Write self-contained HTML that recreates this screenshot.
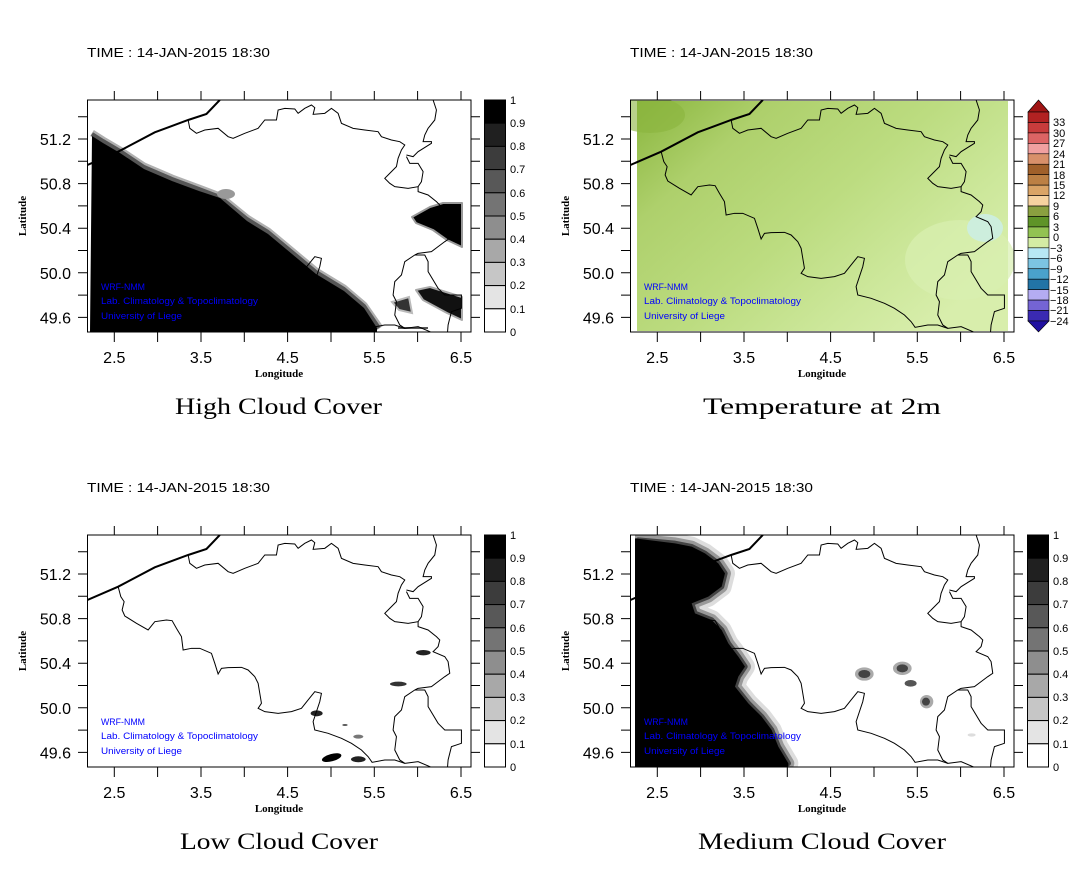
<!DOCTYPE html>
<html><head><meta charset="utf-8"><style>
html,body{margin:0;padding:0;background:#fff;}
svg{display:block;}
.t{font-family:"Liberation Sans",sans-serif;font-size:13px;fill:#000;}
.tk{font-family:"Liberation Sans",sans-serif;font-size:16px;fill:#000;}
.cb{font-family:"Liberation Sans",sans-serif;font-size:11px;fill:#000;}
.ax{font-family:"Liberation Serif",serif;font-size:11px;font-weight:bold;fill:#000;}
.ti{font-family:"Liberation Serif",serif;font-size:23px;fill:#000;}
.bl{font-family:"Liberation Sans",sans-serif;font-size:9px;fill:#0000ff;}
</style></head><body>
<svg width="1087" height="869" viewBox="0 0 1087 869" xmlns="http://www.w3.org/2000/svg">
<defs>
<clipPath id="c1"><rect x="87.5" y="100" width="383.5" height="232"/></clipPath>
<clipPath id="c2"><rect x="630.5" y="100" width="383.5" height="232"/></clipPath>
<clipPath id="c3"><rect x="87.5" y="535" width="383.5" height="232"/></clipPath>
<clipPath id="c4"><rect x="630.5" y="535" width="383.5" height="232"/></clipPath>
<linearGradient id="tg" x1="0" y1="0" x2="1" y2="0.7">
<stop offset="0" stop-color="#8ab63e"/>
<stop offset="0.25" stop-color="#aed06c"/>
<stop offset="0.55" stop-color="#bcdc80"/>
<stop offset="0.8" stop-color="#cce79a"/>
<stop offset="1" stop-color="#d8eeac"/>
</linearGradient>
<g id="frame" fill="none" stroke="#000" stroke-width="1">
<rect x="87.5" y="100" width="383.5" height="232"/>
<path d="M114.3 91V100M157.6 91V100M201 91V100M244.3 91V100M287.6 91V100M331 91V100M374.3 91V100M417.6 91V100M461 91V100
M114.3 332V342M157.6 332V342M201 332V342M244.3 332V342M287.6 332V342M331 332V342M374.3 332V342M417.6 332V342M461 332V342
M78 116.7H87.5M78 139H87.5M78 161.3H87.5M78 183.6H87.5M78 205.9H87.5M78 228.2H87.5M78 250.5H87.5M78 272.8H87.5M78 295.1H87.5M78 317.4H87.5
M471 116.7H480M471 139H480M471 161.3H480M471 183.6H480M471 205.9H480M471 228.2H480M471 250.5H480M471 272.8H480M471 295.1H480M471 317.4H480"/>
</g>
<g id="bd" fill="none" stroke="#000">
<path stroke-width="6" d="M8 210L100 170L210 112L310 75L365 57L405 15"/>
<path stroke-width="3" d="M100 170L108 200L118 215L112 240L120 258L155 280L190 300L210 275L245 270L262 272L275 295L290 320L295 360L320 355L345 355L380 370L390 400L400 432L410 415L430 413L470 412L490 420L510 440L520 460L525 490L530 520L520 535L540 545L580 550L620 545L650 535L670 510L690 485L710 490L705 515L695 545L685 575L690 600L730 610L770 625L800 640L830 660L850 680L862 697L900 690L930 690L960 700L1000 695L1040 712"/>
<path stroke-width="3" d="M310 75L315 100L335 115L360 105L400 100L430 125L445 130L480 115L520 100L540 75L575 75L580 45L600 40L630 42L640 55L660 40L680 30L690 38L685 58L720 55L740 40L760 55L770 85L805 100L840 105L880 110L890 125L920 135L945 140L960 150L950 165L940 190L935 215L910 240L900 250L915 265L930 275L970 280L1000 275L1000 290L1030 300L1055 320L1065 330L1060 350L1045 365L1080 380L1090 395L1095 430L1080 440L1060 455L1040 470L1000 475L990 480"/>
<path stroke-width="3" d="M1045 15L1055 45L1050 75L1030 100L1020 120L1015 140L1040 140L1040 145L1000 170L985 185L965 180M965 185L975 205L1000 205L1015 230L1010 260L1000 275"/>
<path stroke-width="3" d="M990 480L1020 480L1030 500L1030 530L1060 580L1080 600L1130 600L1130 640L1100 650L1090 690L1088 715M990 480L960 500L950 540L930 560L925 600L935 620L930 660L945 690L960 700"/>
</g>
</defs>

<!-- ============ PANEL 1 ============ -->
<text class="t" x="87" y="57" textLength="183" lengthAdjust="spacingAndGlyphs">TIME : 14-JAN-2015 18:30</text>
<g clip-path="url(#c1)">
<polyline points="92,133 103,140 120,150 144,166 172,178 199,188 220,196 247,218 268,231 292,251 316,271 344,288 364,305 380,328" fill="none" stroke="#b0b0b0" stroke-width="7" stroke-linejoin="round"/>
<polyline points="92,134 103,141 120,151 144,167 172,179 199,189 220,197 247,219 268,232 292,252 316,272 344,289 364,306 379,328" fill="none" stroke="#555" stroke-width="4" stroke-linejoin="round"/>
<ellipse cx="226" cy="194" rx="9" ry="5" fill="#999"/>
<polygon points="92,136 103,143 120,153 144,169 172,181 199,191 220,198 247,221 268,234 292,254 316,274 344,291 364,308 377,328 377,332 90,332" fill="#000"/>
<polygon points="412,217 430,207 443,203 462,203 462,247 447,240 433,230 416,223" fill="#000" stroke="#999" stroke-width="2" stroke-linejoin="round"/>
<polygon points="416,290 430,287 462,297 462,320 447,313 423,300" fill="#111" stroke="#aaa" stroke-width="2" stroke-linejoin="round"/>
<polygon points="392,302 409,297 412,313 399,310" fill="#333" stroke="#bbb" stroke-width="2"/>
<rect x="398" y="327" width="30" height="2" fill="#555"/>
<use href="#bd" transform="translate(84.8,95) scale(0.3333)"/>
</g>
<use href="#frame"/>
<text class="bl" x="101" y="290" textLength="44" lengthAdjust="spacingAndGlyphs">WRF-NMM</text>
<text class="bl" x="101" y="304" textLength="157" lengthAdjust="spacingAndGlyphs">Lab. Climatology &amp; Topoclimatology</text>
<text class="bl" x="101" y="319" textLength="81" lengthAdjust="spacingAndGlyphs">University of Liege</text>
<g class="tk" text-anchor="end"><text x="71" y="145">51.2</text><text x="71" y="189.6">50.8</text><text x="71" y="234.2">50.4</text><text x="71" y="278.8">50.0</text><text x="71" y="323.4">49.6</text></g>
<g class="tk" text-anchor="middle"><text x="114.3" y="363">2.5</text><text x="201" y="363">3.5</text><text x="287.6" y="363">4.5</text><text x="374.3" y="363">5.5</text><text x="461" y="363">6.5</text></g>
<text class="ax" x="279" y="377" text-anchor="middle">Longitude</text>
<text class="ax" transform="translate(26,216) rotate(-90)" text-anchor="middle">Latitude</text>
<text class="ti" x="175" y="414" textLength="207" lengthAdjust="spacingAndGlyphs">High Cloud Cover</text>
<g id="gbar" stroke="#000" stroke-width="1">
<rect x="484.5" y="100" width="21" height="23.2" fill="#000"/>
<rect x="484.5" y="123.2" width="21" height="23.2" fill="#202020"/>
<rect x="484.5" y="146.4" width="21" height="23.2" fill="#3c3c3c"/>
<rect x="484.5" y="169.6" width="21" height="23.2" fill="#585858"/>
<rect x="484.5" y="192.8" width="21" height="23.2" fill="#747474"/>
<rect x="484.5" y="216" width="21" height="23.2" fill="#8e8e8e"/>
<rect x="484.5" y="239.2" width="21" height="23.2" fill="#a8a8a8"/>
<rect x="484.5" y="262.4" width="21" height="23.2" fill="#c6c6c6"/>
<rect x="484.5" y="285.6" width="21" height="23.2" fill="#e4e4e4"/>
<rect x="484.5" y="308.8" width="21" height="23.2" fill="#fff"/>
</g>
<g class="cb"><text x="510" y="104">1</text><text x="510" y="127">0.9</text><text x="510" y="150">0.8</text><text x="510" y="173">0.7</text><text x="510" y="197">0.6</text><text x="510" y="220">0.5</text><text x="510" y="243">0.4</text><text x="510" y="266">0.3</text><text x="510" y="289">0.2</text><text x="510" y="313">0.1</text><text x="510" y="336">0</text></g>

<!-- ============ PANEL 2 ============ -->
<text class="t" x="630" y="57" textLength="183" lengthAdjust="spacingAndGlyphs">TIME : 14-JAN-2015 18:30</text>
<g clip-path="url(#c2)">
<rect x="637" y="101" width="371" height="230" fill="url(#tg)"/>
<ellipse cx="650" cy="115" rx="35" ry="18" fill="#8ab43e" opacity="0.6"/>
<ellipse cx="960" cy="260" rx="55" ry="40" fill="#d8f0b0" opacity="0.7"/>
<ellipse cx="985" cy="228" rx="18" ry="14" fill="#cdeedd"/>
<use href="#bd" transform="translate(627.8,95) scale(0.3333)"/>
</g>
<use href="#frame" transform="translate(543,0)"/>
<text class="bl" x="644" y="290" textLength="44" lengthAdjust="spacingAndGlyphs">WRF-NMM</text>
<text class="bl" x="644" y="304" textLength="157" lengthAdjust="spacingAndGlyphs">Lab. Climatology &amp; Topoclimatology</text>
<text class="bl" x="644" y="319" textLength="81" lengthAdjust="spacingAndGlyphs">University of Liege</text>
<g class="tk" text-anchor="end"><text x="614" y="145">51.2</text><text x="614" y="189.6">50.8</text><text x="614" y="234.2">50.4</text><text x="614" y="278.8">50.0</text><text x="614" y="323.4">49.6</text></g>
<g class="tk" text-anchor="middle"><text x="657.3" y="363">2.5</text><text x="744" y="363">3.5</text><text x="830.6" y="363">4.5</text><text x="917.3" y="363">5.5</text><text x="1004" y="363">6.5</text></g>
<text class="ax" x="822" y="377" text-anchor="middle">Longitude</text>
<text class="ax" transform="translate(569,216) rotate(-90)" text-anchor="middle">Latitude</text>
<text class="ti" x="703" y="414" textLength="238" lengthAdjust="spacingAndGlyphs">Temperature at 2m</text>
<g stroke="#000" stroke-width="0.6">
<polygon points="1038.5,100 1049,112 1028,112" fill="#a01414"/>
<rect x="1028" y="112" width="21" height="10.45" fill="#b22222"/>
<rect x="1028" y="122.45" width="21" height="10.45" fill="#c83c3c"/>
<rect x="1028" y="132.9" width="21" height="10.45" fill="#dc6464"/>
<rect x="1028" y="143.35" width="21" height="10.45" fill="#f0a0a0"/>
<rect x="1028" y="153.8" width="21" height="10.45" fill="#d8906a"/>
<rect x="1028" y="164.25" width="21" height="10.45" fill="#a0602a"/>
<rect x="1028" y="174.7" width="21" height="10.45" fill="#bc8044"/>
<rect x="1028" y="185.15" width="21" height="10.45" fill="#daa466"/>
<rect x="1028" y="195.6" width="21" height="10.45" fill="#f6d2a0"/>
<rect x="1028" y="206.05" width="21" height="10.45" fill="#8aa040"/>
<rect x="1028" y="216.5" width="21" height="10.45" fill="#5f9428"/>
<rect x="1028" y="226.95" width="21" height="10.45" fill="#92c252"/>
<rect x="1028" y="237.4" width="21" height="10.45" fill="#d4eca4"/>
<rect x="1028" y="247.85" width="21" height="10.45" fill="#b8e8f4"/>
<rect x="1028" y="258.3" width="21" height="10.45" fill="#7cc4e2"/>
<rect x="1028" y="268.75" width="21" height="10.45" fill="#4aa2cc"/>
<rect x="1028" y="279.2" width="21" height="10.45" fill="#2274a6"/>
<rect x="1028" y="289.65" width="21" height="10.45" fill="#b4acf2"/>
<rect x="1028" y="300.1" width="21" height="10.45" fill="#7464d4"/>
<rect x="1028" y="310.55" width="21" height="10.45" fill="#3a2ab2"/>
<polygon points="1028,321 1049,321 1038.5,332" fill="#2010a0"/>
</g>
<g class="cb" font-size="12"><text x="1053" y="126">33</text><text x="1053" y="137">30</text><text x="1053" y="147">27</text><text x="1053" y="158">24</text><text x="1053" y="168">21</text><text x="1053" y="179">18</text><text x="1053" y="189">15</text><text x="1053" y="199">12</text><text x="1053" y="210">9</text><text x="1053" y="220">6</text><text x="1053" y="231">3</text><text x="1053" y="241">0</text><text x="1050" y="252">−3</text><text x="1050" y="262">−6</text><text x="1050" y="273">−9</text><text x="1050" y="283">−12</text><text x="1050" y="294">−15</text><text x="1050" y="304">−18</text><text x="1050" y="314">−21</text><text x="1050" y="325">−24</text></g>

<!-- ============ PANEL 3 ============ -->
<text class="t" x="87" y="492" textLength="183" lengthAdjust="spacingAndGlyphs">TIME : 14-JAN-2015 18:30</text>
<g clip-path="url(#c3)">
<g transform="translate(85,530) scale(0.3333)">
<ellipse cx="1015" cy="368" rx="22" ry="8" fill="#222"/>
<ellipse cx="940" cy="462" rx="25" ry="7" fill="#333"/>
<ellipse cx="695" cy="550" rx="18" ry="9" fill="#222"/>
<ellipse cx="740" cy="683" rx="30" ry="11" fill="#000" transform="rotate(-15 740 683)"/>
<ellipse cx="820" cy="688" rx="22" ry="9" fill="#222"/>
<ellipse cx="820" cy="620" rx="15" ry="6" fill="#777"/>
<ellipse cx="780" cy="585" rx="8" ry="3" fill="#555"/>
</g>
<use href="#bd" transform="translate(84.8,530) scale(0.3333)"/>
</g>
<use href="#frame" transform="translate(0,435)"/>
<text class="bl" x="101" y="725" textLength="44" lengthAdjust="spacingAndGlyphs">WRF-NMM</text>
<text class="bl" x="101" y="739" textLength="157" lengthAdjust="spacingAndGlyphs">Lab. Climatology &amp; Topoclimatology</text>
<text class="bl" x="101" y="754" textLength="81" lengthAdjust="spacingAndGlyphs">University of Liege</text>
<g class="tk" text-anchor="end"><text x="71" y="580">51.2</text><text x="71" y="624.6">50.8</text><text x="71" y="669.2">50.4</text><text x="71" y="713.8">50.0</text><text x="71" y="758.4">49.6</text></g>
<g class="tk" text-anchor="middle"><text x="114.3" y="798">2.5</text><text x="201" y="798">3.5</text><text x="287.6" y="798">4.5</text><text x="374.3" y="798">5.5</text><text x="461" y="798">6.5</text></g>
<text class="ax" x="279" y="812" text-anchor="middle">Longitude</text>
<text class="ax" transform="translate(26,651) rotate(-90)" text-anchor="middle">Latitude</text>
<text class="ti" x="180" y="849" textLength="198" lengthAdjust="spacingAndGlyphs">Low Cloud Cover</text>
<use href="#gbar" transform="translate(0,435)"/>
<g class="cb"><text x="510" y="539">1</text><text x="510" y="562">0.9</text><text x="510" y="585">0.8</text><text x="510" y="608">0.7</text><text x="510" y="632">0.6</text><text x="510" y="655">0.5</text><text x="510" y="678">0.4</text><text x="510" y="701">0.3</text><text x="510" y="724">0.2</text><text x="510" y="748">0.1</text><text x="510" y="771">0</text></g>

<!-- ============ PANEL 4 ============ -->
<text class="t" x="630" y="492" textLength="183" lengthAdjust="spacingAndGlyphs">TIME : 14-JAN-2015 18:30</text>
<g clip-path="url(#c4)">
<g transform="translate(625,530) scale(0.3333)" stroke-linejoin="round" stroke-linecap="round">
<polyline points="40,30 150,40 200,50 240,70 280,100 300,130 290,170 250,200 200,220 210,250 260,270 290,300 310,340 340,380 360,410 340,440 330,470 370,520 410,560 440,600 460,650 490,700" fill="none" stroke="#ddd" stroke-width="60"/>
<polyline points="40,30 150,40 200,50 240,70 280,100 300,130 290,170 250,200 200,220 210,250 260,270 290,300 310,340 340,380 360,410 340,440 330,470 370,520 410,560 440,600 460,650 490,700" fill="none" stroke="#999" stroke-width="36"/>
<polyline points="40,30 150,40 200,50 240,70 280,100 300,130 290,170 250,200 200,220 210,250 260,270 290,300 310,340 340,380 360,410 340,440 330,470 370,520 410,560 440,600 460,650 490,700" fill="none" stroke="#444" stroke-width="16"/>
<polygon points="30,25 150,40 200,50 240,70 280,100 300,130 290,170 250,200 200,220 210,250 260,270 290,300 310,340 340,380 360,410 340,440 330,470 370,520 410,560 440,600 460,650 490,700 490,720 30,720" fill="#000"/>
<rect x="0" y="0" width="30" height="720" fill="#fff"/>
<ellipse cx="718" cy="432" rx="28" ry="20" fill="#aaa"/><ellipse cx="718" cy="432" rx="18" ry="12" fill="#444"/>
<ellipse cx="832" cy="415" rx="28" ry="20" fill="#aaa"/><ellipse cx="832" cy="415" rx="17" ry="12" fill="#444"/>
<ellipse cx="857" cy="460" rx="18" ry="10" fill="#555"/>
<ellipse cx="905" cy="515" rx="20" ry="20" fill="#aaa"/><ellipse cx="903" cy="515" rx="12" ry="12" fill="#444"/>
<ellipse cx="1040" cy="615" rx="12" ry="5" fill="#ddd"/>
</g>
<use href="#bd" transform="translate(627.8,530) scale(0.3333)"/>
</g>
<use href="#frame" transform="translate(543,435)"/>
<text class="bl" x="644" y="725" textLength="44" lengthAdjust="spacingAndGlyphs">WRF-NMM</text>
<text class="bl" x="644" y="739" textLength="157" lengthAdjust="spacingAndGlyphs">Lab. Climatology &amp; Topoclimatology</text>
<text class="bl" x="644" y="754" textLength="81" lengthAdjust="spacingAndGlyphs">University of Liege</text>
<g class="tk" text-anchor="end"><text x="614" y="580">51.2</text><text x="614" y="624.6">50.8</text><text x="614" y="669.2">50.4</text><text x="614" y="713.8">50.0</text><text x="614" y="758.4">49.6</text></g>
<g class="tk" text-anchor="middle"><text x="657.3" y="798">2.5</text><text x="744" y="798">3.5</text><text x="830.6" y="798">4.5</text><text x="917.3" y="798">5.5</text><text x="1004" y="798">6.5</text></g>
<text class="ax" x="822" y="812" text-anchor="middle">Longitude</text>
<text class="ax" transform="translate(569,651) rotate(-90)" text-anchor="middle">Latitude</text>
<text class="ti" x="698" y="849" textLength="248" lengthAdjust="spacingAndGlyphs">Medium Cloud Cover</text>
<use href="#gbar" transform="translate(543,435)"/>
<g class="cb"><text x="1053" y="539">1</text><text x="1053" y="562">0.9</text><text x="1053" y="585">0.8</text><text x="1053" y="608">0.7</text><text x="1053" y="632">0.6</text><text x="1053" y="655">0.5</text><text x="1053" y="678">0.4</text><text x="1053" y="701">0.3</text><text x="1053" y="724">0.2</text><text x="1053" y="748">0.1</text><text x="1053" y="771">0</text></g>
</svg>
</body></html>
